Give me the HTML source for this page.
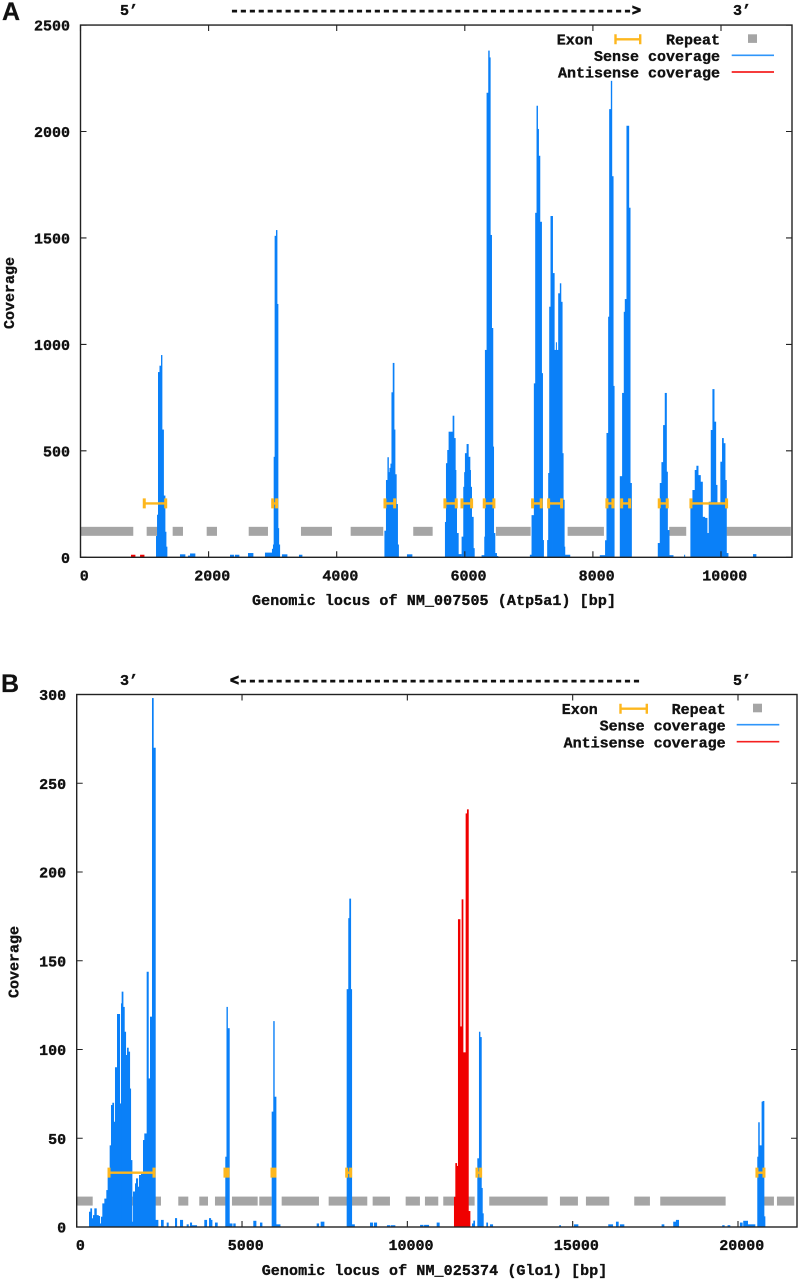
<!DOCTYPE html>
<html lang="en">
<head>
<meta charset="utf-8">
<title>Coverage of NM_007505 and NM_025374</title>
<style>
html,body{margin:0;padding:0;background:#fff;}
svg{display:block;}
text{font-family:"Liberation Mono",monospace;font-weight:bold;font-size:15px;fill:#111;stroke:#111;stroke-width:0.35px;}
.panel-letter{font-family:"Liberation Sans",sans-serif;font-size:25px;fill:#111;stroke-width:0.2px;}
.arrow{stroke-width:0.9px;}
</style>
</head>
<body>
<svg id="figure" xmlns="http://www.w3.org/2000/svg" width="800" height="1280" viewBox="0 0 800 1280">
  <rect x="0" y="0" width="800" height="1280" fill="#fff"/>

  <g id="panel-a"></g>
  <g id="panel-b"></g>

  <g>
    <text class="panel-letter" x="2" y="20">A</text>
    <text x="120" y="15">5’</text>
    <text class="arrow" x="230" y="15" textLength="411" lengthAdjust="spacing">---------------------------------------------&gt;</text>
    <text x="733" y="15">3’</text>
    <text x="252" y="605" textLength="364" lengthAdjust="spacing">Genomic locus of NM_007505 (Atp5a1) [bp]</text>
    <text transform="translate(14,293) rotate(-90)" text-anchor="middle">Coverage</text>
  </g>
  <g>
    <text x="556.7" y="44.5">Exon</text>
    <g stroke="#fdb71e" stroke-width="2.4" fill="none">
      <path d="M615 39.3H640.7M615.5 34.3V44.3M640.2 34.3V44.3"/>
    </g>
    <text x="720" y="44.5" text-anchor="end">Repeat</text>
    <rect x="748" y="34.3" width="9" height="8.6" fill="#a5a5a5"/>
    <text x="720" y="61" text-anchor="end">Sense coverage</text>
    <line x1="731.7" x2="774" y1="55.3" y2="55.3" stroke="#2f95fa" stroke-width="1.7"/>
    <text x="720" y="77.7" text-anchor="end">Antisense coverage</text>
    <line x1="731.7" x2="774" y1="72" y2="72" stroke="#f52020" stroke-width="1.7"/>
  </g>

  <g>
    <text class="panel-letter" x="1" y="692">B</text>
    <text x="120" y="685">3’</text>
    <text class="arrow" x="230" y="685" textLength="411" lengthAdjust="spacing">&lt;---------------------------------------------</text>
    <text x="733" y="685">5’</text>
    <text x="261.7" y="1275" textLength="345.6" lengthAdjust="spacing">Genomic locus of NM_025374 (Glo1) [bp]</text>
    <text transform="translate(18.5,962) rotate(-90)" text-anchor="middle">Coverage</text>
  </g>
  <g>
    <text x="561.7" y="714">Exon</text>
    <g stroke="#fdb71e" stroke-width="2.4" fill="none">
      <path d="M620 708.7H647.3M620.5 703.7V713.7M646.8 703.7V713.7"/>
    </g>
    <text x="725.7" y="714" text-anchor="end">Repeat</text>
    <rect x="753" y="703.7" width="9" height="8.6" fill="#a5a5a5"/>
    <text x="725.7" y="730.7" text-anchor="end">Sense coverage</text>
    <line x1="736.7" x2="779.3" y1="724.7" y2="724.7" stroke="#2f95fa" stroke-width="1.7"/>
    <text x="725.7" y="747.7" text-anchor="end">Antisense coverage</text>
    <line x1="736.7" x2="779.3" y1="741.7" y2="741.7" stroke="#f52020" stroke-width="1.7"/>
  </g>
</svg>

<script>
/* ---------- Panel A data (genomic position in bp, coverage) ---------- */
const xTickLabelsA = [0, 2000, 4000, 6000, 8000, 10000];
const yTickLabelsA = [0, 500, 1000, 1500, 2000, 2500];
const exonLevelA = 253;
const repeatLevelA = 122;
const exonStartsA = [980, 2985, 4738, 5674, 5940, 6288, 7043, 7293, 8203, 8433, 9020, 9515];
const exonEndsA = [1346, 3078, 4920, 5882, 6122, 6470, 7209, 7527, 8328, 8589, 9176, 10103];
const repeatStartsA = [3, 1033, 1439, 1970, 2626, 3442, 4218, 5195, 6486, 7605, 9191, 10087];
const repeatEndsA = [824, 1288, 1600, 2131, 2927, 3926, 4727, 5498, 7028, 8172, 9457, 11090];
const senseStartsA = [
  1179,1195,1210,1233,1257,1272,1296,1319,1335,1350,
  1553,1631, 1678,1710,1787, 2334,2390,2410,2474, 2615,2693,
  2880,2989,3005,3016,3031,3052,3068,3083,3095,3110,
  3145,3224, 3411,3458,
  4745,4769,4792,4808,4823,4839,4855,4875,4895,4910,4930,4950,4965,
  5097,5175,
  5690,5706,5726,5747,5810,5830,5851,5862,5872,5898,5945,
  5950,5976,5990,6002,6028,6054,6080,6090,6106,6132,6148,
  6262,6304,6314,6340,6366,6382,6397,6418,6438,6450,6470,6496,6517,
  7016,7042,7078,7099,7120,7136,7151,7172,7198,7214,7229,
  7286,7302,7318,7338,7370,7396,7422,7432,7458,7484,7500,7520,7536,7552,7562,7640,
  8108,8190,8212,8238,8254,8280,8295,8316,8332,
  8420,8456,8482,8498,8524,8560,8581,8602,
  9013,9044,9070,9096,9122,9148,9164,9190,9252,
  9424,9434,
  9522,9554,9590,9616,9642,9678,9710,9746,9782,9808,9840,9866,9892,9918,9938,9990,10016,10037,10063,10084,10110,
  10500,10546
];
const senseValuesA = [
  100,200,870,900,950,600,290,120,50,0,
  14,0, 8,18,0, 12,0,12,0, 20,0,
  22,40,60,472,1510,1537,1190,137,60,0,
  14,0, 12,0,
  125,363,470,400,420,440,775,913,600,390,250,60,0,
  14,0,
  166,442,504,590,665,560,410,270,114,15,0,
  97,331,400,489,532,472,410,331,190,43,0,
  10,97,974,2182,2380,2348,1514,1077,520,114,20,6,0,
  12,198,817,1618,2121,2012,1886,1576,865,81,0,
  81,396,1177,1603,1335,974,1010,974,1240,1287,1200,489,270,50,12,0,
  10,80,584,1130,2105,2238,1790,805,0,
  381,772,1153,1213,2027,1642,349,0,
  67,349,447,621,772,402,128,10,0,
  12,0,
  260,316,410,430,386,355,190,185,114,261,598,790,637,340,254,449,560,536,363,20,0,
  15,0
];
const antisenseStartsA = [788, 851, 930, 992];
const antisenseValuesA = [12, 0, 12, 0];

/* ---------- Panel B data (genomic position in bp, coverage) ---------- */
const xTickLabelsB = [0, 5000, 10000, 15000, 20000];
const yTickLabelsB = [0, 50, 100, 150, 200, 250, 300];
const exonLevelB = 30.6;
const repeatLevelB = 14.6;
const exonStartsB = [947, 4454, 5876, 8135, 12075, 20542];
const exonEndsB = [2368, 4606, 6027, 8316, 12247, 20815];
const repeatStartsB = [0, 1640, 3072, 3707, 4182, 4696, 5522, 6199, 7620, 8951, 9949, 10532, 11086, 12477, 14615, 15401, 16862, 17648, 20763, 21178];
const repeatEndsB = [484, 2549, 3375, 3971, 4536, 5473, 5897, 7327, 8788, 9474, 10381, 10935, 12035, 14243, 15159, 16106, 17337, 19626, 21087, 21701];
const senseStartsB = [
  372,412,453,493,533,594,654,695,735,775,836,896,936,997,1037,1078,1118,1158,1219,1259,1299,1340,1360,1400,1440,1481,1521,1561,1602,1632,1672,1703,1763,1793,1844,1884,1944,2005,2045,2116,2166,2217,2277,2316,2377,2458,
  2549,2619, 2722,2770, 2973,3024, 3124,3205, 3326,3377, 3426,3477,3628, 3859,3931, 4001,4052,4092, 4182,4252,
  4494,4530,4560,4615,4700, 4736,4796, 5341,5422, 5543,5604,
  5897,5945,5975,6027,6150, 7258,7318, 7378,7479,
  8165,8213,8244,8286,8316,8400,
  8870,8951, 8991,9072, 9383,9474, 9504,9625, 10385,10476, 10506,10645, 10887,10965,
  11955,11995,12035, 12116,12166,12197,12237,12267,12297, 12388,12428, 12499,12580,
  14593,14635, 15038,15159, 16076,16209, 16309,16379, 16429,16550, 17690,17760, 18041,18122,18204, 19522,19583, 19684,19755,
  20058,20128, 20158,20290,20512,
  20583,20612,20645,20714,20744,20785,20815
];
const senseValuesB = [
  8.6,10.5,4.9,6.7,10.5,6.7,6.2,2,5.8,13.3,16,20.8,30,46,68.7,70,59.3,90,120,120,69.6,126,132.6,124,110,96.9,101,98.8,78,37.7,3,20,24.6,27.4,22.7,29.3,30,49,52.7,143.8,83.7,118.5,298,270,4,0,
  4,0, 2.5,0, 5,0, 4,0, 1.5,0, 2.5,1,0, 4,0, 5,4,0, 2.5,0,
  39.6,124,112,2,0, 2,0, 3.5,0, 2.5,0,
  65,116,73.4,1.5,0, 2,0, 3,0,
  134,174,185,134,1.5,0,
  2.5,0, 2.5,0, 1,0, 1,0, 1.2,0, 1.2,0, 2.5,0,
  2,3.6,0, 38.7,110,107,22,7.7,0, 2.5,0, 1.5,0,
  1,0, 1.5,0, 1.5,0, 3,0, 1.5,0, 1.5,0, 3,4,0, 1,0, 1,0,
  2.5,0, 3.5,1.5,0,
  39.6,59,46,70.6,71,6,0
];
const antisenseStartsB = [11410, 11451, 11491, 11531, 11592, 11642, 11682, 11763, 11803, 11844, 11894];
const antisenseValuesB = [17, 36, 34.4, 173.4, 113, 184.6, 98.4, 233, 235.3, 9, 0];

/* ---------- Axis functions ---------- */
function xScaleA(bp) { return 80.5 + bp * 0.06405; }
function yScaleA(v) { return 557.3 - v * 0.2129; }
function xScaleB(bp) { return 76.7 + bp * 0.033065; }
function yScaleB(v) { return 1227 - v * 1.775; }

const SVG_NS = 'http://www.w3.org/2000/svg';
const SENSE_COLOR = '#0a80f8';
const ANTISENSE_COLOR = '#f00000';
const EXON_COLOR = '#fdb71e';
const REPEAT_COLOR = '#a5a5a5';
const AXIS_COLOR = '#222';

function make(parent, tag) {
  const el = document.createElementNS(SVG_NS, tag);
  parent.appendChild(el);
  return el;
}

function drawRepeats(parent, starts, ends, level, xs, ys) {
  for (let i = 0; i < starts.length; i++) {
    const r = make(parent, 'rect');
    
    
    r.setAttribute('x', xs(starts[i]));
    r.setAttribute('y', ys(level) - 4.5);
    r.setAttribute('width', xs(ends[i]) - xs(starts[i]));
    r.setAttribute('height', 9);
    r.setAttribute('fill', REPEAT_COLOR);
  }
}

function drawCoverage(parent, starts, values, color, seriesName, xs, ys) {
  const g = make(parent, 'g');
  
  
  for (let i = 0; i < starts.length - 1; i++) {
    const r = make(g, 'rect');
    
    
    r.setAttribute('x', xs(starts[i]));
    r.setAttribute('y', ys(values[i]));
    r.setAttribute('width', xs(starts[i + 1]) - xs(starts[i]) + 0.4);
    r.setAttribute('height', ys(0) - ys(values[i]));
    r.setAttribute('fill', color);
  }
}

function drawExons(parent, starts, ends, level, xs, ys) {
  for (let i = 0; i < starts.length; i++) {
    const a = xs(starts[i]);
    const b = xs(ends[i]);
    const y = ys(level);
    const bar = make(parent, 'path');
    
    
    bar.setAttribute('d', 'M' + a + ' ' + y + 'H' + b);
    bar.setAttribute('stroke', EXON_COLOR);
    bar.setAttribute('stroke-width', 2.4);
    bar.setAttribute('fill', 'none');
    const caps = make(parent, 'path');
    
    
    caps.setAttribute('d', 'M' + (a + 1) + ' ' + (y - 5) + 'V' + (y + 5) + 'M' + (b - 1) + ' ' + (y - 5) + 'V' + (y + 5));
    caps.setAttribute('stroke', EXON_COLOR);
    caps.setAttribute('stroke-width', 3);
    caps.setAttribute('fill', 'none');
  }
}

function drawAxes(parent, xTicks, yTicks, xs, ys, xMaxPx) {
  const left = xs(0);
  const bottom = ys(0);
  const top = ys(yTicks[yTicks.length - 1]);
  const frame = make(parent, 'rect');
  
  
  frame.setAttribute('x', left);
  frame.setAttribute('y', top);
  frame.setAttribute('width', xMaxPx - left);
  frame.setAttribute('height', bottom - top);
  frame.setAttribute('fill', 'none');
  frame.setAttribute('stroke', AXIS_COLOR);
  frame.setAttribute('stroke-width', 1.4);

  xTicks.forEach(function (t) {
    const tick = make(parent, 'path');
    
    
    tick.setAttribute('d', 'M' + xs(t) + ' ' + bottom + 'v-6M' + xs(t) + ' ' + top + 'v6');
    tick.setAttribute('stroke', AXIS_COLOR);
    tick.setAttribute('stroke-width', 1.1);
    const label = make(parent, 'text');
    
    
    label.setAttribute('x', xs(t) + 3.7);
    label.setAttribute('y', bottom + 23);
    label.setAttribute('text-anchor', 'middle');
    label.textContent = String(t);
  });

  yTicks.forEach(function (t) {
    const tick = make(parent, 'path');
    
    
    tick.setAttribute('d', 'M' + left + ' ' + ys(t) + 'h6M' + xMaxPx + ' ' + ys(t) + 'h-6');
    tick.setAttribute('stroke', AXIS_COLOR);
    tick.setAttribute('stroke-width', 1.1);
    const label = make(parent, 'text');
    
    
    label.setAttribute('x', left - 10.5);
    label.setAttribute('y', ys(t) + 5.5);
    label.setAttribute('text-anchor', 'end');
    label.textContent = String(t);
  });
}

const panelA = document.getElementById('panel-a');
drawRepeats(panelA, repeatStartsA, repeatEndsA, repeatLevelA, xScaleA, yScaleA);
drawCoverage(panelA, senseStartsA, senseValuesA, SENSE_COLOR, 'sense-coverage-a', xScaleA, yScaleA);
drawCoverage(panelA, antisenseStartsA, antisenseValuesA, ANTISENSE_COLOR, 'antisense-coverage-a', xScaleA, yScaleA);
drawExons(panelA, exonStartsA, exonEndsA, exonLevelA, xScaleA, yScaleA);
drawAxes(panelA, xTickLabelsA, yTickLabelsA, xScaleA, yScaleA, 792);

const panelB = document.getElementById('panel-b');
drawRepeats(panelB, repeatStartsB, repeatEndsB, repeatLevelB, xScaleB, yScaleB);
drawCoverage(panelB, senseStartsB, senseValuesB, SENSE_COLOR, 'sense-coverage-b', xScaleB, yScaleB);
drawCoverage(panelB, antisenseStartsB, antisenseValuesB, ANTISENSE_COLOR, 'antisense-coverage-b', xScaleB, yScaleB);
drawExons(panelB, exonStartsB, exonEndsB, exonLevelB, xScaleB, yScaleB);
drawAxes(panelB, xTickLabelsB, yTickLabelsB, xScaleB, yScaleB, 797);
</script>
</body>
</html>
